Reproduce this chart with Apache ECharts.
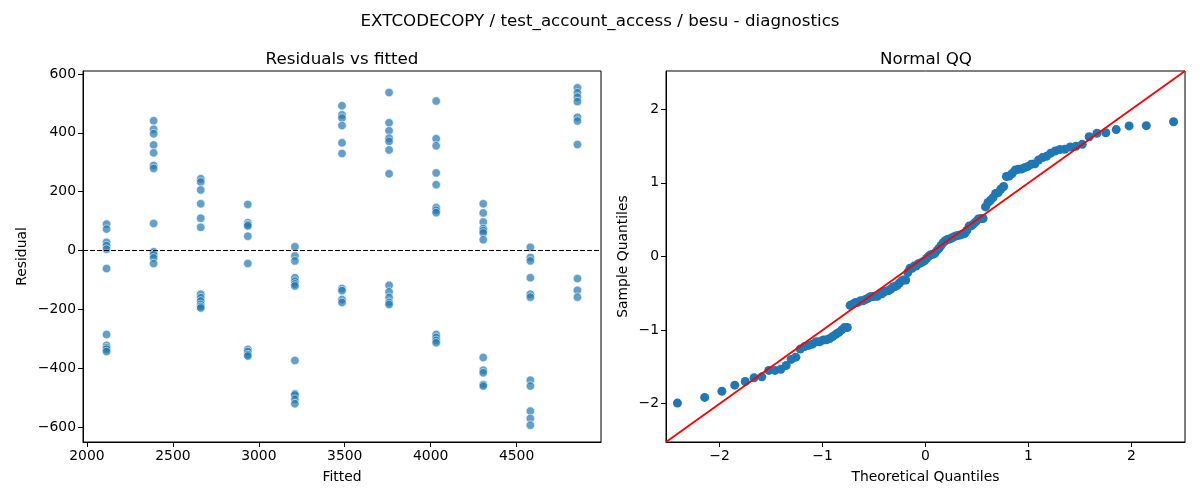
<!DOCTYPE html>
<html>
<head>
<meta charset="utf-8">
<script src="https://cdn.jsdelivr.net/npm/echarts@6/dist/echarts.min.js"></script>
<style>
    html, body { margin: 0; padding: 0; background: #fff; }
    #diag-chart { width: 1200px; height: 500px; }
</style>
</head>
<body>
<div id="diag-chart"></div>
<script>
// fitted values (one level per group) and the residuals read at each level
var fittedLevels = [2114, 2388, 2662, 2936, 3210, 3484, 3758, 4032, 4306, 4580, 4854];
var residualsByLevel = [
    [90, 73, 28, 17, 5, -61, -285, -322, -330, -335, -343],
    [441, 412, 397, 359, 332, 289, 279, 92, -4, -14, -25, -44],
    [244, 233, 206, 159, 110, 79, -148, -160, -171, -183, -190, -195],
    [157, 95, 88, 84, 49, -44, -336, -343, -353, -358],
    [13, -18, -35, -92, -104, -113, -120, -373, -486, -490, -505, -520],
    [492, 461, 450, 425, 366, 330, -129, -136, -166, -176],
    [537, 434, 407, 382, 371, 342, 261, -118, -140, -159, -176, -183],
    [508, 380, 356, 264, 224, 146, 137, 129, -285, -295, -305, -313],
    [159, 128, 97, 75, 68, 60, 37, -363, -406, -415, -455, -460],
    [11, -23, -35, -92, -148, -158, -440, -460, -545, -570, -593],
    [553, 536, 521, 506, 453, 440, 360, -95, -135, -158]
];
var residTicks = [-600, -400, -200, 0, 200, 400, 600];
var fittedTicks = [2000, 2500, 3000, 3500, 4000, 4500];
var qqTicks = [-2, -1, 0, 1, 2];

(function () {
    var FONT = 'DejaVu Sans';
    var BLUE = '#1f77b4';

    // inverse normal cdf (Acklam) - only for the theoretical quantiles
    function normPpf(p) {
        var a = [-39.69683028665376, 220.9460984245205, -275.9285104469687, 138.3577518672690, -30.66479806614716, 2.506628277459239];
        var b = [-54.47609879822406, 161.5858368580409, -155.6989798598866, 66.80131188771972, -13.28068155288572];
        var c = [-0.007784894002430293, -0.3223964580411365, -2.400758277161838, -2.549732539343734, 4.374664141464968, 2.938163982698783];
        var d = [0.007784695709041462, 0.3224671290700398, 2.445134137142996, 3.754408661907416];
        var q, r;
        if (p < 0.02425) {
            q = Math.sqrt(-2 * Math.log(p));
            return (((((c[0] * q + c[1]) * q + c[2]) * q + c[3]) * q + c[4]) * q + c[5]) /
                ((((d[0] * q + d[1]) * q + d[2]) * q + d[3]) * q + 1);
        }
        if (p > 1 - 0.02425) {
            q = Math.sqrt(-2 * Math.log(1 - p));
            return -(((((c[0] * q + c[1]) * q + c[2]) * q + c[3]) * q + c[4]) * q + c[5]) /
                ((((d[0] * q + d[1]) * q + d[2]) * q + d[3]) * q + 1);
        }
        q = p - 0.5;
        r = q * q;
        return (((((a[0] * r + a[1]) * r + a[2]) * r + a[3]) * r + a[4]) * r + a[5]) * q /
            (((((b[0] * r + b[1]) * r + b[2]) * r + b[3]) * r + b[4]) * r + 1);
    }

    function minusLabel(v) {
        return v < 0 ? '\u2212' + Math.abs(v) : String(v);
    }

    var scatterData = [];
    var allResid = [];
    fittedLevels.forEach(function (f, i) {
        residualsByLevel[i].forEach(function (r) {
            scatterData.push([f, r]);
            allResid.push(r);
        });
    });

    // normal QQ: standardised, sorted residuals against plotting positions i/(n+1)
    var n = allResid.length;
    var mean = allResid.reduce(function (s, v) { return s + v; }, 0) / n;
    var sd = Math.sqrt(allResid.reduce(function (s, v) { return s + (v - mean) * (v - mean); }, 0) / n);
    var sorted = allResid.slice().sort(function (x, y) { return x - y; });
    var qqData = sorted.map(function (v, i) {
        return [normPpf((i + 1) / (n + 1)), (v - mean) / sd];
    });
    var QQ_LIM = 2.52;

    var tickLabel = { color: '#000', fontFamily: FONT, fontSize: 13.9, margin: 7, formatter: minusLabel };
    var nameStyle = { color: '#000', fontFamily: FONT, fontSize: 13.9 };
    var axisLine = { show: true, onZero: false, lineStyle: { color: '#000', width: 1 } };
    var titleStyle = { color: '#000', fontFamily: FONT, fontSize: 16.7, fontWeight: 'normal' };

    function ticks(values) {
        return { show: true, length: 5, lineStyle: { color: '#000', width: 1 }, customValues: values };
    }
    function labels(values) {
        return echarts.util.extend({ customValues: values }, tickLabel);
    }

    var dom = document.getElementById('diag-chart');
    var myChart = echarts.init(dom, null, { renderer: 'canvas' });

    var option = {
        backgroundColor: '#fff',
        animation: false,
        title: [
            { text: 'EXTCODECOPY / test_account_access / besu - diagnostics', left: 595, top: 8, textAlign: 'center', textStyle: titleStyle },
            { text: 'Residuals vs fitted', left: 337, top: 46, textAlign: 'center', textStyle: titleStyle },
            { text: 'Normal QQ', left: 921, top: 46, textAlign: 'center', textStyle: titleStyle }
        ],
        grid: [
            { left: 83, top: 71, width: 518, height: 371, show: true, borderColor: '#000', borderWidth: 1, backgroundColor: 'transparent' },
            { left: 666, top: 71, width: 519, height: 371, show: true, borderColor: '#000', borderWidth: 1, backgroundColor: 'transparent' }
        ],
        xAxis: [
            {
                gridIndex: 0, type: 'value', min: 1977, max: 4991,
                name: 'Fitted', nameLocation: 'middle', nameGap: 28, nameTextStyle: nameStyle,
                axisLine: axisLine, axisTick: ticks(fittedTicks), axisLabel: labels(fittedTicks),
                splitLine: { show: false }
            },
            {
                gridIndex: 1, type: 'value', min: -QQ_LIM, max: QQ_LIM,
                name: 'Theoretical Quantiles', nameLocation: 'middle', nameGap: 28, nameTextStyle: nameStyle,
                axisLine: axisLine, axisTick: ticks(qqTicks), axisLabel: labels(qqTicks),
                splitLine: { show: false }
            }
        ],
        yAxis: [
            {
                gridIndex: 0, type: 'value', min: -650, max: 610,
                name: 'Residual', nameLocation: 'middle', nameGap: 54, nameTextStyle: nameStyle,
                axisLine: axisLine, axisTick: ticks(residTicks), axisLabel: labels(residTicks),
                splitLine: { show: false }
            },
            {
                gridIndex: 1, type: 'value', min: -QQ_LIM, max: QQ_LIM,
                name: 'Sample Quantiles', nameLocation: 'middle', nameGap: 36, nameTextStyle: nameStyle,
                axisLine: axisLine, axisTick: ticks(qqTicks), axisLabel: labels(qqTicks),
                splitLine: { show: false }
            }
        ],
        series: [
            {
                name: 'Residuals',
                type: 'scatter',
                xAxisIndex: 0, yAxisIndex: 0,
                data: scatterData,
                symbolSize: 8.5,
                itemStyle: { color: BLUE, opacity: 0.7, borderColor: '#fff', borderWidth: 0.8 },
                markLine: {
                    silent: true,
                    symbol: 'none',
                    label: { show: false },
                    lineStyle: { color: '#000', type: [5, 2], width: 1 },
                    data: [{ yAxis: 0 }]
                }
            },
            {
                name: 'QQ',
                type: 'scatter',
                xAxisIndex: 1, yAxisIndex: 1,
                data: qqData,
                symbolSize: 9,
                itemStyle: { color: BLUE, opacity: 1 },
                markLine: {
                    silent: true,
                    symbol: 'none',
                    label: { show: false },
                    lineStyle: { color: '#ff0000', type: 'solid', width: 1.8 },
                    data: [[{ coord: [-QQ_LIM, -QQ_LIM] }, { coord: [QQ_LIM, QQ_LIM] }]]
                }
            }
        ]
    };
    if (option && typeof option === 'object') {
        myChart.setOption(option, true);
    }
})();
</script>
</body>
</html>
